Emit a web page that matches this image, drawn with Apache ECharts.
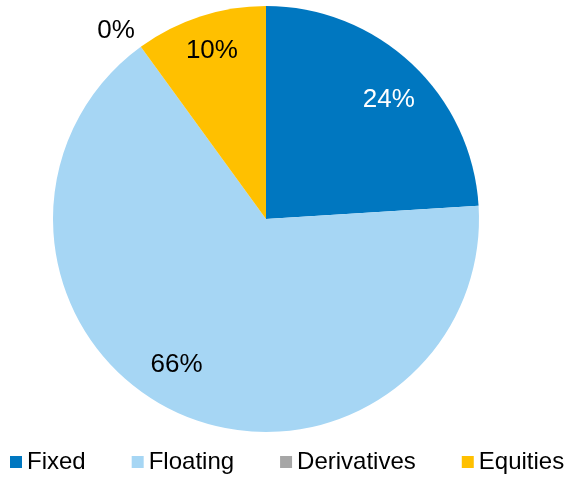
<!DOCTYPE html>
<html>
<head>
<meta charset="utf-8">
<script src="https://cdn.jsdelivr.net/npm/echarts@6/dist/echarts.min.js"></script>
<style>html,body{margin:0;padding:0;background:#fff}#c{width:569px;height:479px}</style>
</head>
<body>
<div id="c"></div>
<script>
const categories = ['Fixed', 'Floating', 'Derivatives', 'Equities'];
const values = [24, 66, 0, 10];
const sliceColors = ['#0077C0', '#A6D6F4', '#A6A6A6', '#FFC000'];
const labelColors = ['#ffffff', '#000000', '#000000', '#000000'];

const FONT = '"Liberation Sans", Arial, sans-serif';
const chart = echarts.init(document.getElementById('c'), null, {renderer: 'canvas'});

const pieData = categories.map((name, i) => ({
  name, value: values[i], itemStyle: {color: sliceColors[i]}
}));
const labelData = categories.map((name, i) => ({
  name, value: values[i],
  itemStyle: {color: 'rgba(0,0,0,0)'},
  label: {color: labelColors[i]}
}));
// small nudges to match the reference's label placement
const nudges = {0: [3, 8], 1: [-15, -13], 2: [-47, -47], 3: [0, -2]};

chart.setOption({
  animation: false,
  legend: {
    data: categories,
    left: 10,
    top: 450,
    width: 559,
    padding: 0,
    icon: 'rect',
    itemWidth: 12,
    itemHeight: 12,
    itemGap: 46,
    textStyle: {fontFamily: FONT, fontSize: 24, color: '#000'}
  },
  series: [
    {
      type: 'pie',
      center: [266, 219],
      radius: 213,
      startAngle: 90,
      clockwise: true,
      silent: true,
      label: {show: false},
      labelLine: {show: false},
      data: pieData
    },
    {
      type: 'pie',
      center: [266, 219],
      radius: [150, 194],
      startAngle: 90,
      clockwise: true,
      silent: true,
      legendHoverLink: false,
      label: {
        show: true,
        position: 'inside',
        formatter: '{c}%',
        fontFamily: FONT,
        fontSize: 26
      },
      labelLine: {show: false},
      labelLayout: function (p) {
        const n = nudges[p.dataIndex];
        return n ? {dx: n[0], dy: n[1]} : {};
      },
      data: labelData
    }
  ]
});
</script>
</body>
</html>
